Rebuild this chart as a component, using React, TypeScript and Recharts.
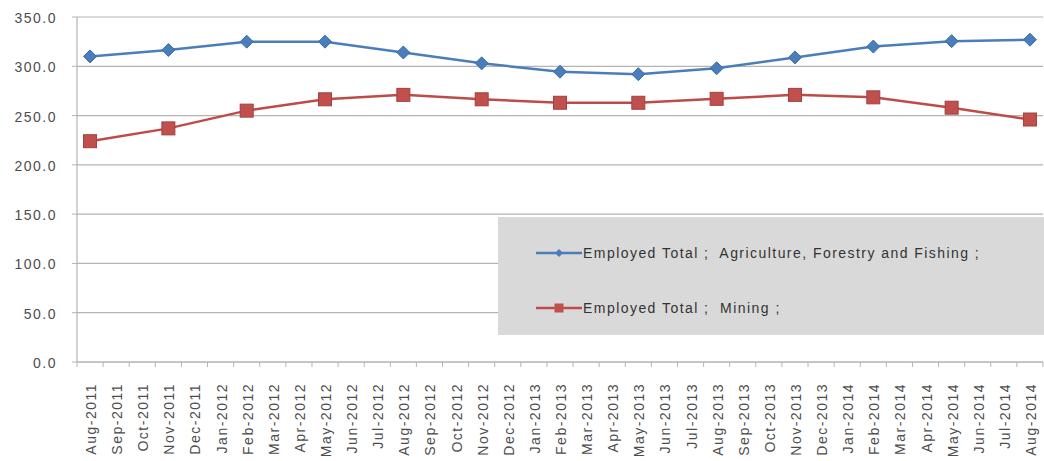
import React from "react";
import { LineChart, Line, XAxis, YAxis, CartesianGrid, Legend } from "recharts";

const months = [
  "Aug-2011", "Sep-2011", "Oct-2011", "Nov-2011", "Dec-2011",
  "Jan-2012", "Feb-2012", "Mar-2012", "Apr-2012", "May-2012", "Jun-2012", "Jul-2012",
  "Aug-2012", "Sep-2012", "Oct-2012", "Nov-2012", "Dec-2012",
  "Jan-2013", "Feb-2013", "Mar-2013", "Apr-2013", "May-2013", "Jun-2013", "Jul-2013",
  "Aug-2013", "Sep-2013", "Oct-2013", "Nov-2013", "Dec-2013",
  "Jan-2014", "Feb-2014", "Mar-2014", "Apr-2014", "May-2014", "Jun-2014", "Jul-2014",
  "Aug-2014",
];

const quarterMonths = [
  "Aug-2011", "Nov-2011", "Feb-2012", "May-2012", "Aug-2012", "Nov-2012", "Feb-2013",
  "May-2013", "Aug-2013", "Nov-2013", "Feb-2014", "May-2014", "Aug-2014",
];

const agriculture = [310, 316.5, 325, 325, 314, 303, 294.5, 292, 298, 309, 320, 325.5, 327];
const mining = [224, 237, 255, 266.5, 271, 266.5, 263, 263, 267, 271, 268.5, 258, 246];

const yTicks = [0, 50, 100, 150, 200, 250, 300, 350];

const seriesNames = [
  "Employed Total ;  Agriculture, Forestry and Fishing ;",
  "Employed Total ;  Mining ;",
];

const data = months.map((m) => {
  const i = quarterMonths.indexOf(m);
  return {
    month: m,
    agri: i >= 0 ? agriculture[i] : null,
    mining: i >= 0 ? mining[i] : null,
  };
});

const FONT = "'Liberation Sans', Arial, sans-serif";
const BLUE = "#4A7EBB";
const RED = "#BE4B48";
const GRID = "#B4B4B4";
const LABEL = "#4D4D4D";

const W = 1044;
const H = 461;
const M = { top: 17, right: 1, bottom: 0, left: 0 };
const Y_W = 77;
const X_H = 99;
const PLOT_W = W - M.left - M.right - Y_W;
const BAND = PLOT_W / months.length;

const XTick = (props: any) => {
  const { x, y, payload, index } = props;
  return (
    <g>
      <line x1={x - BAND / 2} x2={x - BAND / 2} y1={y} y2={y + 5} stroke={GRID} />
      {index === months.length - 1 && (
        <line x1={x + BAND / 2} x2={x + BAND / 2} y1={y} y2={y + 5} stroke={GRID} />
      )}
      <text
        x={0}
        y={0}
        textAnchor="end"
        transform={`translate(${x + 6},${y + 21}) rotate(-90)`}
        fontFamily={FONT}
        fontSize={14}
        fill={LABEL}
        style={{ letterSpacing: "1.5px" }}
      >
        {payload.value}
      </text>
    </g>
  );
};

const YTick = (props: any) => {
  const { x, y, payload } = props;
  return (
    <text
      x={x}
      y={y + 6}
      textAnchor="end"
      fontFamily={FONT}
      fontSize={14}
      fill={LABEL}
      style={{ letterSpacing: "1.5px" }}
    >
      {Number(payload.value).toFixed(1)}
    </text>
  );
};

const Diamond = (props: any) => {
  const { cx, cy, value } = props;
  if (value == null || cx == null || cy == null) return <g />;
  const r = 6.5;
  return (
    <path
      d={`M${cx},${cy - r} L${cx + r},${cy} L${cx},${cy + r} L${cx - r},${cy} Z`}
      fill={BLUE}
      stroke="#3D6CA3"
      strokeWidth={1}
    />
  );
};

const Square = (props: any) => {
  const { cx, cy, value } = props;
  if (value == null || cx == null || cy == null) return <g />;
  const s = 6.5;
  return (
    <rect x={cx - s} y={cy - s} width={2 * s} height={2 * s} fill="#C0504D" stroke="#A3403D" strokeWidth={1} />
  );
};

const LegendContent = () => {
  const rows = [
    { name: seriesNames[0], color: BLUE, marker: "diamond" },
    { name: seriesNames[1], color: RED, marker: "square" },
  ];
  return (
    <div
      style={{
        width: "100%",
        height: "100%",
        background: "#D9D9D9",
        position: "relative",
        fontFamily: FONT,
      }}
    >
      {rows.map((r, i) => (
        <div
          key={i}
          style={{
            position: "absolute",
            left: 38,
            top: i === 0 ? 26 : 81,
            height: 20,
            display: "flex",
            alignItems: "center",
            whiteSpace: "pre",
          }}
        >
          <svg width={46} height={20} style={{ display: "block" }}>
            <line x1={0} x2={46} y1={10} y2={10} stroke={r.color} strokeWidth={2.5} />
            {r.marker === "diamond" ? (
              <path d="M23,6 L27,10 L23,14 L19,10 Z" fill={r.color} />
            ) : (
              <rect x={18.5} y={5.5} width={9} height={9} fill="#C0504D" />
            )}
          </svg>
          <span style={{ fontSize: 14, color: "#333", letterSpacing: "1.45px", marginLeft: 1, whiteSpace: "pre" }}>
            {r.name}
          </span>
        </div>
      ))}
    </div>
  );
};

export default function App() {
  return (
    <div style={{ position: "absolute", left: 0, top: 0, width: W, height: H, background: "#fff" }}>
      <LineChart width={W} height={H} data={data} margin={M}>
        <CartesianGrid vertical={false} stroke={GRID} strokeWidth={1.2} />
        <XAxis
          dataKey="month"
          scale="band"
          interval={0}
          height={X_H}
          tickSize={0}
          tickMargin={0}
          tickLine={false}
          axisLine={{ stroke: GRID, strokeWidth: 1.2 }}
          tick={<XTick />}
        />
        <YAxis
          width={Y_W}
          domain={[0, 350]}
          ticks={yTicks}
          interval={0}
          tickSize={5}
          tickMargin={15}
          tickLine={{ stroke: GRID }}
          axisLine={{ stroke: GRID, strokeWidth: 1.2 }}
          tick={<YTick />}
        />
        <Legend
          layout="horizontal"
          verticalAlign="middle"
          align="center"
          wrapperStyle={{ left: 498, top: 217, width: 546, height: 118 }}
          content={<LegendContent />}
        />
        <Line
          type="linear"
          dataKey="agri"
          name={seriesNames[0]}
          stroke={BLUE}
          strokeWidth={2.5}
          connectNulls
          dot={<Diamond />}
          activeDot={false}
          isAnimationActive={false}
        />
        <Line
          type="linear"
          dataKey="mining"
          name={seriesNames[1]}
          stroke={RED}
          strokeWidth={2.5}
          connectNulls
          dot={<Square />}
          activeDot={false}
          isAnimationActive={false}
        />
      </LineChart>
    </div>
  );
}
